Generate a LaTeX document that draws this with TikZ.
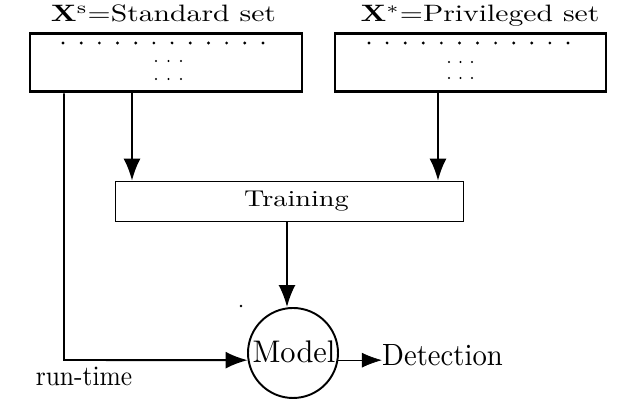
\documentclass[tikz,border=0pt]{standalone}
\usepackage{amsmath}
\usepackage{graphicx}
\usepackage{tikz}
\usetikzlibrary{arrows.meta}

\newcommand{\stretchtext}[3]{\scalebox{#1}[#2]{#3}}

\begin{document}
\begin{tikzpicture}[
		setbox/.style={draw=black, line width=1.7pt, minimum width=5.44cm, minimum height=1.16cm},
		link/.style={line width=1.1pt, -{Latex[length=4.4mm, width=3.4mm]}},
		plain/.style={font=\fontsize{10}{12}\selectfont, inner sep=0pt}]
				\useasboundingbox (0, 0) rectangle (12.6, 8.32);
				% data sets
				\node[setbox] (std) at (3.32, 7.06) {};
				\node[setbox, minimum width=5.42cm] (priv) at (9.41, 7.06) {};
				\node[plain, anchor=base] (stdlabel) at (3.27, 7.88) {\stretchtext{1.69}{1.35}{$\mathbf{X}^{\mathrm{s}}$=Standard set}};
				\node[plain, anchor=base] (privlabel) at (9.6, 7.88) {\stretchtext{1.69}{1.35}{$\mathbf{X}^{*}$=Privileged set}};
				\foreach \i in {0,...,11} {
					\fill (1.26 + 0.3636*\i, 7.46) circle (0.9pt);
					\fill (7.38 + 0.3618*\i, 7.46) circle (0.9pt);
				}
				\foreach \i in {0,1,2} {
					\fill (3.12 + 0.25*\i, 7.1) circle (0.7pt);
					\fill (3.12 + 0.25*\i, 6.74) circle (0.7pt);
					\fill (8.98 + 0.23*\i, 7.08) circle (0.7pt);
					\fill (8.98 + 0.23*\i, 6.76) circle (0.7pt);
				}
				% training and model
				\node[draw=black, thin, minimum width=6.96cm, minimum height=0.8cm, font=\fontsize{10}{12}\selectfont] (train) at (5.78, 4.3) {\hspace{0.3cm}\stretchtext{1.61}{1.3}{Training}};
				\node[draw=black, circle, line width=1.1pt, minimum size=1.8cm, inner sep=0pt] (model) at (5.86, 1.26) {};
				\node[plain, anchor=base] (modellabel) at (5.88, 1.07) {\stretchtext{1.73}{1.78}{Model}};
				\node[plain, anchor=base] (det) at (8.85, 1.0) {\stretchtext{1.63}{1.75}{Detection}};
				\node[plain, anchor=base] (rtlabel) at (1.68, 0.61) {\stretchtext{1.45}{1.6}{run-time}};
				\coordinate (rt) at (1.28, 1.12);
				\fill (4.82, 2.2) circle (0.8pt);
				% connectors
				\draw [link](std.south -| 2.64, 0) -- (train.north -| 2.64, 0);
				\draw [link](priv.south -| 8.76, 0) -- (train.north -| 8.76, 0);
				\draw [link](train.south -| 5.74, 0) -- (model.north -| 5.74, 0);
				\draw [link](std.south -| rt) -- (rt) -- (model.189);
				\draw [thin, -{Latex[length=4mm, width=3mm]}](model.-9) -- (det.west |- model.-9);
			\end{tikzpicture}
\end{document}
